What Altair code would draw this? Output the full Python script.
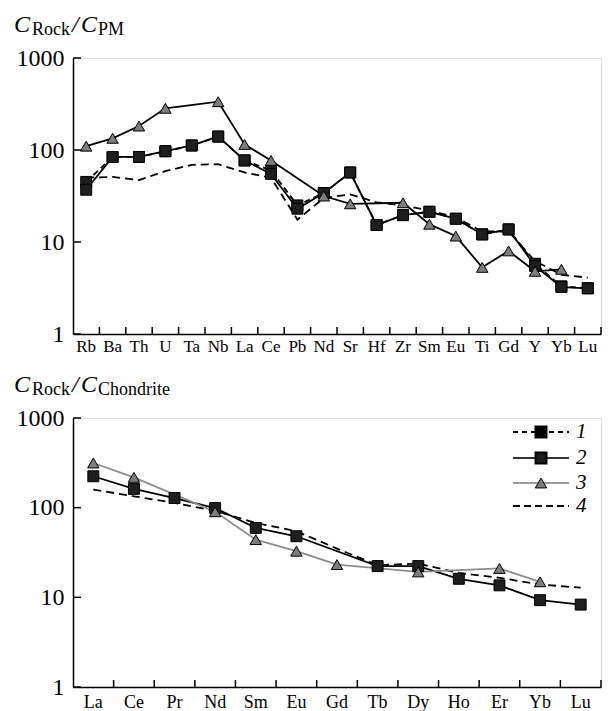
import altair as alt
import pandas as pd

# ---------------- data ----------------
cats_pm = ["Rb", "Ba", "Th", "U", "Ta", "Nb", "La", "Ce", "Pb", "Nd",
           "Sr", "Hf", "Zr", "Sm", "Eu", "Ti", "Gd", "Y", "Yb", "Lu"]
pm_s1 = [45, 84, 84, 97, 112, 140, 77, 60, 25, 34, 57, 15.3, 19.6, 21.3, 17.9, 12.1, 13.7, 5.8, 3.3, 3.14]
pm_s2 = [37, 84, 84, 97, 112, 140, 77, 55, 23, 34, 57, 15.3, 19.6, 21.3, 17.9, 12.1, 13.7, 5.5, 3.24, 3.14]
pm_s3 = [110, 134, 182, 284, None, 335, 115, 77, None, 31.6, 26, None, 26.7, 15.6, 11.6, 5.3, 8.0, 4.8, 5.05, None]
pm_s4 = [50, 51, 47, 59, 69, 70, 57, 50, 17.5, 30, 33, 27, 25, 22, 18.5, 13, 13, 6.2, 4.4, 4.1]

cats_ch = ["La", "Ce", "Pr", "Nd", "Sm", "Eu", "Gd", "Tb", "Dy", "Ho", "Er", "Yb", "Lu"]
ch_s2 = [224, 162, 128, 99, 59.4, 48, None, 22.3, 22.3, 16.1, 13.6, 9.3, 8.3]
ch_s3 = [315, 218, None, 90, 44, 32.7, 23.2, None, 19.2, None, 21, 14.9, None]
ch_s4 = [159, 134, 113, 92, 67.5, 54.6, 35, 22.8, 23.8, 18.7, 16.5, 13.9, 12.8]

y_ticks = [1, 10, 100, 1000]
legend_labels = ["1", "2", "3", "4"]

FONT = "Liberation Serif"
W = 528
H1 = 276
H2 = 269


def long_df(cats, series):
    rows = []
    for name, vals in series.items():
        for c, v in zip(cats, vals):
            if v is not None:
                rows.append({"el": c, "s": name, "v": v})
    return pd.DataFrame(rows)


def one():
    return pd.DataFrame({"a": [0]})


def txt(text, x, y, size, italic=False, baseline="alphabetic", align="left"):
    return alt.Chart(one()).mark_text(
        text=text, font=FONT, fontSize=size, fontStyle="italic" if italic else "normal",
        align=align, baseline=baseline, color="black"
    ).encode(x=alt.value(x), y=alt.value(y))


def panel(cats, df, H, xlab_size, xlab_pad, tri_line_color, title_sub, title_dy):
    xaxis = alt.Axis(title=None, labelAngle=0, ticks=False, grid=False, domainColor="black",
                     domainWidth=1.5, labelFont=FONT, labelFontSize=xlab_size, labelColor="black",
                     labelPadding=xlab_pad, labelOverlap=False)
    yaxis = alt.Axis(title=None, values=y_ticks, format="d", ticks=False, grid=False,
                     domainColor="black", domainWidth=1.5, labelFont=FONT, labelFontSize=24,
                     labelColor="black", labelPadding=9, labelOverlap=False)
    xscale = alt.Scale(type="band", domain=cats, paddingInner=0, paddingOuter=0)
    yscale = alt.Scale(type="log", domain=[1, 1000])
    xenc = alt.X("el:N", sort=cats, scale=xscale, axis=xaxis)
    yenc = alt.Y("v:Q", scale=yscale, axis=yaxis)

    base = alt.Chart(df).encode(x=xenc, y=yenc)
    layers = []
    present = set(df["s"])
    if "4" in present:
        layers.append(base.transform_filter("datum.s == '4'").mark_line(
            color="black", strokeWidth=1.8, strokeDash=[8, 5]))
    if "1" in present:
        layers.append(base.transform_filter("datum.s == '1'").mark_line(
            color="black", strokeWidth=1.8, strokeDash=[6, 4]))
    if "2" in present:
        layers.append(base.transform_filter("datum.s == '2'").mark_line(
            color="black", strokeWidth=1.8))
    if "3" in present:
        layers.append(base.transform_filter("datum.s == '3'").mark_line(
            color=tri_line_color, strokeWidth=1.8))
    for s in ["1", "2"]:
        if s in present:
            layers.append(base.transform_filter(f"datum.s == '{s}'").mark_point(
                shape="square", filled=True, size=120, fill="#1e1e1e", stroke="black",
                strokeWidth=1, opacity=1))
    if "3" in present:
        layers.append(base.transform_filter("datum.s == '3'").mark_point(
            shape="triangle-up", filled=True, size=130, fill="#7d7d7d", stroke="black",
            strokeWidth=1, opacity=1))

    # inward ticks
    layers.append(alt.Chart(pd.DataFrame({"v": y_ticks})).mark_rule(
        color="black", strokeWidth=1.5).encode(y=yenc, x=alt.value(0), x2=alt.value(8)))
    layers.append(alt.Chart(pd.DataFrame({"el": cats})).mark_rule(
        color="black", strokeWidth=1.5).encode(
        x=alt.X("el:N", sort=cats, scale=xscale, axis=xaxis, bandPosition=1),
        y=alt.value(H), y2=alt.value(H - 7)))

    # title C_Rock / C_sub
    by = title_dy
    layers += [
        txt("C", -59, by, 24, italic=True),
        txt("Rock", -41, by + 3, 18),
        txt("/", -1, by, 24, italic=True),
        txt("C", 8, by, 24, italic=True),
        txt(title_sub, 25, by + 3, 18),
    ]
    return layers


df_pm = long_df(cats_pm, {"1": pm_s1, "2": pm_s2, "3": pm_s3, "4": pm_s4})
df_ch = long_df(cats_ch, {"2": ch_s2, "3": ch_s3, "4": ch_s4})

top_layers = panel(cats_pm, df_pm, H1, 17, 4, "black", "PM", -26)
# anchor to fix the page offset of the plot area
top_layers.append(alt.Chart(one()).mark_rule(opacity=0).encode(
    x=alt.value(-72), x2=alt.value(-71), y=alt.value(-57), y2=alt.value(-56)))
top = alt.layer(*top_layers).properties(width=W, height=H1)

bot_layers = panel(cats_ch, df_ch, H2, 18, 6, "#8c8c8c", "Chondrite", -26)

# legend (inside bottom panel)
LX1, LX2, LM, LT = 440, 496, 468, 503
rows_y = [14, 40, 65, 88]
bot_layers += [
    alt.Chart(one()).mark_rule(color="black", strokeWidth=1.8, strokeDash=[5, 4]).encode(
        x=alt.value(LX1), x2=alt.value(LX2), y=alt.value(rows_y[0])),
    alt.Chart(one()).mark_point(shape="square", filled=True, size=120, fill="black",
                                stroke="black", opacity=1).encode(
        x=alt.value(LM), y=alt.value(rows_y[0])),
    alt.Chart(one()).mark_rule(color="#333333", strokeWidth=1.8).encode(
        x=alt.value(LX1), x2=alt.value(LX2), y=alt.value(rows_y[1])),
    alt.Chart(one()).mark_point(shape="square", filled=True, size=120, fill="#1e1e1e",
                                stroke="black", opacity=1).encode(
        x=alt.value(LM), y=alt.value(rows_y[1])),
    alt.Chart(one()).mark_rule(color="#9a9a9a", strokeWidth=1.8).encode(
        x=alt.value(LX1), x2=alt.value(LX2), y=alt.value(rows_y[2])),
    alt.Chart(one()).mark_point(shape="triangle-up", filled=True, size=130, fill="#7d7d7d",
                                stroke="black", strokeWidth=1, opacity=1).encode(
        x=alt.value(LM), y=alt.value(rows_y[2])),
    alt.Chart(one()).mark_rule(color="black", strokeWidth=1.8, strokeDash=[7, 4]).encode(
        x=alt.value(LX1), x2=alt.value(LX2), y=alt.value(rows_y[3])),
]
for lab, yy in zip(legend_labels, rows_y):
    bot_layers.append(txt(lab, LT, yy, 21, italic=True, baseline="middle"))

bottom = alt.layer(*bot_layers).properties(width=W, height=H2)

chart = alt.vconcat(top, bottom, spacing=84, bounds="flush").properties(
    padding=0, autosize=alt.AutoSizeParams(type="pad")
).configure_view(stroke="transparent").configure(font=FONT, background="white")

chart.save("out.html", embed_options={"renderer": "svg", "actions": False})
